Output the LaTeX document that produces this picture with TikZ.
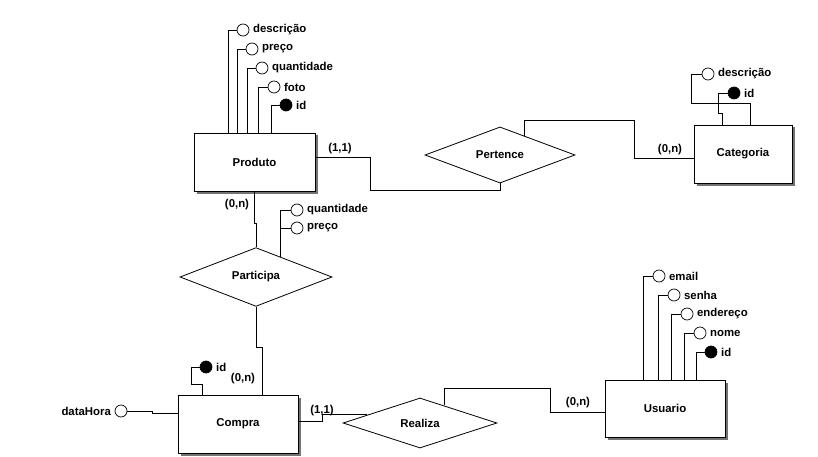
\documentclass[tikz,border=0pt]{standalone}
\usepackage{fontspec}
\setmainfont{Liberation Sans}
\usetikzlibrary{shapes.geometric,shadows,calc}
\begin{document}
\begin{tikzpicture}[x=1pt,y=-1pt,line width=0.8pt,
  font=\fontsize{11.4}{13}\selectfont\bfseries,
  entity/.style={draw,rectangle,fill=white,inner sep=0pt,
    drop shadow={shadow xshift=2.5pt,shadow yshift=-2.5pt,fill=black!55,opacity=1}},
  rel/.style={draw,diamond,fill=white,inner sep=0pt},
  attr/.style={draw,circle,fill=white,minimum size=12pt,inner sep=0pt,line width=0.7pt,label distance=1.5pt},
  keyattr/.style={attr,fill=black},
  card/.style={inner sep=0pt}]
\useasboundingbox (0,0) rectangle (818,457);

% entities
\node[entity,minimum width=121pt,minimum height=58pt] (Produto) at (254.5,162) {Produto};
\node[entity,minimum width=98pt,minimum height=58pt] (Categoria) at (743,154) {Categoria};
\node[entity,minimum width=120pt,minimum height=58pt] (Compra) at (238,424) {Compra};
\node[entity,minimum width=120pt,minimum height=57pt] (Usuario) at (665,408.5) {Usuario};

% relationships
\node[rel,minimum width=150pt,minimum height=56pt] (Pertence) at (500,155) {Pertence};
\node[rel,minimum width=152pt,minimum height=46pt] (Participa) at (256,277) {Participa};
\node[rel,minimum width=154pt,minimum height=50pt] (Realiza) at (420,423) {Realiza};

\coordinate (PtA) at ($(Pertence.north)!0.33!(Pertence.east)$);
\coordinate (PaA) at ($(Participa.north)!0.32!(Participa.east)$);
\coordinate (RzA) at ($(Realiza.west)!0.32!(Realiza.north)$);
\coordinate (RzB) at ($(Realiza.north)!0.31!(Realiza.east)$);

% Produto attributes
\node[attr,label={0:descrição}] (pdesc) at (243,30) {};
\node[attr,label={0:preço}] (ppreco) at (252,49) {};
\node[attr,label={0:quantidade}] (pqtd) at (262,68) {};
\node[attr,label={0:foto}] (pfoto) at (274,87) {};
\node[keyattr,label={0:id}] (pid) at (286,105) {};
\draw (pdesc.west) -| ([xshift=-26.5pt]Produto.north);
\draw (ppreco.west) -| ([xshift=-17.5pt]Produto.north);
\draw (pqtd.west) -| ([xshift=-7.5pt]Produto.north);
\draw (pfoto.west) -| ([xshift=3.5pt]Produto.north);
\draw (pid.west) -| ([xshift=16.5pt]Produto.north);

% Categoria attributes
\node[attr,label={0:descrição}] (cdesc) at (708,74) {};
\node[keyattr,label={0:id}] (cid) at (734,93) {};
\draw (cdesc.west) -| (691,103) -| ([xshift=7pt]Categoria.north);
\draw (cid.west) -| (718,113) -| ([xshift=-21pt]Categoria.north);

% Participa attributes
\node[attr,label={0:quantidade}] (paqtd) at (297,210) {};
\node[attr,label={0:preço}] (papreco) at (297,228) {};
\draw (PaA) |- (paqtd.west);
\draw (papreco.west) -- ++(-11,0);

% Compra attributes
\node[keyattr,label={0:id}] (coid) at (206,367) {};
\node[attr,label={180:dataHora}] (codh) at (121,411) {};
\draw (coid.west) -| (191,384) -| ([xshift=-36pt]Compra.north);
\draw (codh.east) -- (152,411) |- ([yshift=11pt]Compra.west);

% Usuario attributes
\node[attr,label={0:email}] (uemail) at (659,276) {};
\node[attr,label={0:senha}] (usenha) at (674,295) {};
\node[attr,label={0:endereço}] (uend) at (687,314) {};
\node[attr,label={0:nome}] (unome) at (700,333) {};
\node[keyattr,label={0:id}] (uid) at (711,352) {};
\draw (uemail.west) -| ([xshift=-22pt]Usuario.north);
\draw (usenha.west) -| ([xshift=-7pt]Usuario.north);
\draw (uend.west) -| ([xshift=6pt]Usuario.north);
\draw (unome.west) -| ([xshift=19pt]Usuario.north);
\draw (uid.west) -| ([xshift=31pt]Usuario.north);

% relationship connectors
\draw ([yshift=5pt]Produto.east) -| (370,190) -| (Pertence.south);
\draw (PtA) |- (634,120) |- ([yshift=-4pt]Categoria.west);
\draw (Produto.south) -- (254.5,223) -| (Participa.north);
\draw (Participa.south) -- (256,347) -| ([xshift=24pt]Compra.north);
\draw ([yshift=3pt]Compra.east) -- (322,421) |- (RzA);
\draw (RzB) |- (550,388) |- ([yshift=-3.5pt]Usuario.west);

% cardinalities
\node[card] (c1) at (340,149) {(1,1)};
\node[card] (c2) at (670,150) {(0,n)};
\node[card] (c3) at (237,205) {(0,n)};
\node[card] (c4) at (243,379) {(0,n)};
\node[card] (c5) at (322,411) {(1,1)};
\node[card] (c6) at (578,403) {(0,n)};
\end{tikzpicture}
\end{document}
